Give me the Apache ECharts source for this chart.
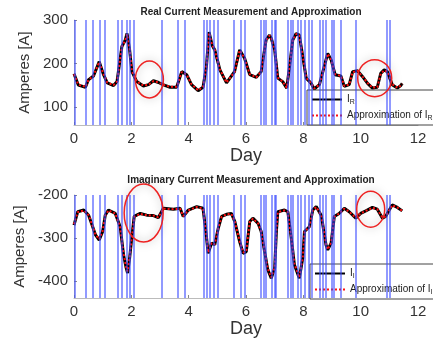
<!DOCTYPE html>
<html lang="en">
<head>
  <meta charset="UTF-8">
  <title>Real / Imaginary Current Measurement and Approximation</title>
  <script src="https://cdn.jsdelivr.net/npm/echarts@6/dist/echarts.min.js"></script>
  <style>
    * { margin: 0; padding: 0; }
    body { background: #fff; }
    #chart { width: 433px; height: 339px; }
  </style>
</head>
<body>
  <div id="chart"></div>
  <script>
    // real part, measured (day, A)
    const realDays = [0, 0.15, 0.4, 0.5, 0.68, 0.88, 1.03, 1.16, 1.38, 1.5, 1.67, 1.79, 1.85, 1.94, 2.02, 2.19, 2.42, 2.6, 2.77, 2.95,
      3.1, 3.35, 3.58, 3.76, 3.93, 4.1, 4.33, 4.5, 4.62, 4.71, 4.82, 4.91, 5.09, 5.32, 5.37, 5.6, 5.78, 5.84, 5.95, 6.13,
      6.36, 6.53, 6.7, 6.82, 6.88, 7.0, 7.11, 7.28, 7.42, 7.52, 7.63, 7.75, 7.86, 7.98, 8.1, 8.27, 8.38, 8.56, 8.73, 8.85,
      8.97, 9.11, 9.31, 9.43, 9.6, 9.72, 9.89, 10.06, 10.24, 10.41, 10.58, 10.7, 10.82, 10.93, 11.1, 11.28, 11.4, 11.45];
    const realAmps = [176, 150, 145, 162, 171, 204, 174, 155, 149, 158, 239, 254, 269, 231, 181, 158, 148, 151, 160, 156,
      151, 145, 145, 181, 174, 151, 137, 145, 193, 272, 242, 231, 185, 155, 151, 181, 231, 233, 212, 174,
      168, 181, 254, 265, 258, 231, 166, 158, 143, 193, 254, 269, 265, 216, 166, 154, 141, 151, 193, 223,
      208, 174, 171, 147, 151, 181, 183, 170, 154, 143, 145, 177, 185, 181, 151, 143, 149, 154];
    const realApprox = [175, 151, 146, 161, 172, 203, 175, 156, 150, 158, 238, 254, 267, 232, 182, 158, 149, 151, 159, 156,
      151, 146, 146, 180, 174, 152, 138, 146, 194, 270, 243, 231, 186, 156, 152, 180, 230, 232, 212, 175,
      168, 181, 253, 264, 258, 231, 167, 158, 144, 193, 253, 268, 264, 216, 167, 154, 142, 151, 192, 222,
      208, 175, 171, 148, 151, 180, 183, 170, 155, 144, 145, 176, 184, 181, 152, 144, 149, 153];

    // imaginary part, measured (day, A)
    const imagDays = [0, 0.13, 0.34, 0.51, 0.63, 0.75, 0.88, 1.0, 1.09, 1.2, 1.44, 1.61, 1.73, 1.82, 1.87, 1.94, 2.02, 2.1, 2.31, 2.54,
      2.77, 2.94, 3.12, 3.47, 3.7, 3.81, 3.99, 4.28, 4.5, 4.6, 4.68, 4.8, 4.91, 5.03, 5.15, 5.32, 5.49, 5.61, 5.78, 5.9,
      6.01, 6.13, 6.24, 6.42, 6.53, 6.65, 6.76, 6.88, 7.0, 7.06, 7.11, 7.34, 7.46, 7.58, 7.69, 7.86, 7.98, 8.04, 8.21, 8.33,
      8.45, 8.62, 8.67, 8.79, 8.85, 8.97, 9.08, 9.25, 9.43, 9.6, 9.83, 10.0, 10.18, 10.41, 10.58, 10.76, 10.87, 11.1, 11.28, 11.45];
    const imagAmps = [-270, -239, -235, -247, -270, -293, -305, -285, -247, -235, -243, -274, -340, -370, -382, -347, -297, -250, -243, -247,
      -248, -253, -231, -233, -231, -250, -235, -227, -231, -285, -336, -312, -316, -278, -250, -245, -243, -262, -309, -336,
      -332, -262, -254, -266, -285, -332, -374, -394, -370, -285, -239, -235, -239, -301, -363, -394, -347, -285, -274, -235,
      -227, -247, -266, -316, -328, -312, -250, -243, -231, -239, -254, -243, -237, -229, -233, -254, -250, -223, -229, -237];
    const imagApprox = [-268, -240, -236, -247, -269, -292, -303, -284, -248, -236, -243, -275, -338, -368, -378, -346, -297, -251, -244, -247,
      -248, -252, -232, -233, -232, -249, -236, -228, -232, -284, -334, -312, -315, -278, -251, -245, -244, -262, -308, -334,
      -331, -263, -255, -266, -285, -331, -372, -392, -369, -286, -240, -236, -240, -300, -361, -392, -347, -286, -274, -236,
      -228, -247, -265, -315, -327, -311, -251, -243, -232, -239, -253, -243, -237, -230, -233, -253, -250, -224, -229, -237];

    // blue vertical markers (day)
    const markerDays = [0.03, 0.42, 0.64, 0.9, 1.06, 1.51, 1.65, 1.83, 1.93, 2.07, 3.05, 3.63, 3.86,
      4.54, 4.62, 4.72, 4.88, 5.03, 5.56, 5.8, 5.95, 6.53, 6.61, 6.68, 6.89, 7.0, 7.05,
      7.46, 7.55, 7.62, 7.8, 7.92, 8.04, 8.19, 8.31, 8.56, 8.67, 8.79, 9.0, 9.06, 9.31, 9.84, 10.9, 11.03];

    // red highlight circles (day, A)
    const realCircles = [[2.63, 163], [10.49, 166]];
    const imagCircles = [[2.43, -242], [10.35, -233]];

    const dayTicks = [0, 2, 4, 6, 8, 10, 12];
    const realTicks = [100, 200, 300];
    const imagTicks = [-400, -300, -200];

    const chart = echarts.init(document.getElementById('chart'));
    const font = 'Liberation Sans, Arial, sans-serif';

    function pairs(xs, ys) {
      return xs.map((x, i) => [x, ys[i]]);
    }

    function xAx(gridIndex) {
      return {
        type: 'value', gridIndex: gridIndex, min: 0, max: 12, interval: 2,
        name: 'Day', nameLocation: 'middle', nameGap: 22,
        nameTextStyle: { fontSize: 18, color: '#333', fontFamily: font },
        axisLine: { lineStyle: { color: '#bbb' } },
        axisTick: { inside: true, length: 3, lineStyle: { color: '#888' } },
        axisLabel: { fontSize: 15, color: '#333', fontFamily: font, margin: 6,
          customValues: dayTicks },
        splitLine: { show: false }
      };
    }

    function yAx(gridIndex, min, max, ticks) {
      return {
        type: 'value', gridIndex: gridIndex, min: min, max: max,
        name: 'Amperes [A]', nameLocation: 'middle', nameGap: 40, nameRotate: 90,
        nameTextStyle: { fontSize: 15, color: '#333', fontFamily: font },
        axisLine: { show: true, lineStyle: { color: '#bbb' } },
        axisTick: { inside: true, length: 3, lineStyle: { color: '#888' }, customValues: ticks },
        axisLabel: { fontSize: 15, color: '#333', fontFamily: font, margin: 6, customValues: ticks },
        splitLine: { show: false }
      };
    }

    const rich = {
      a: { fontSize: 10, color: '#222', fontFamily: font, lineHeight: 14 },
      s: { fontSize: 7, color: '#222', fontFamily: font, lineHeight: 14, padding: [6, 0, 0, 0] }
    };

    function legendBox(left, top, names) {
      return {
        data: names, orient: 'vertical', left: left, top: top,
        backgroundColor: '#fff', borderColor: '#444', borderWidth: 1, borderRadius: 0,
        padding: [3, 5, 3, 4], itemGap: 3, itemWidth: 30, itemHeight: 12,
        selectedMode: false,
        itemStyle: { color: 'rgba(0,0,0,0)', borderWidth: 0, opacity: 0 },
        textStyle: { rich: rich },
        formatter: function (name) {
          if (name === 'IR') return '{a|I}{s|R}';
          if (name === 'aIR') return '{a|Approximation of I}{s|R}';
          if (name === 'II') return '{a|I}{s|I}';
          return '{a|Approximation of I}{s|I}';
        }
      };
    }

    function measured(name, xi, data) {
      return {
        name: name, type: 'line', xAxisIndex: xi, yAxisIndex: xi, data: data,
        symbol: 'none', z: 3, lineStyle: { color: '#000', width: 3 }, itemStyle: { color: '#000' }
      };
    }

    function approx(name, xi, data) {
      return {
        name: name, type: 'line', xAxisIndex: xi, yAxisIndex: xi, data: data,
        symbol: 'none', z: 4, lineStyle: { color: '#ff1010', width: 2, type: [2, 2] },
        itemStyle: { color: '#ff1010' }
      };
    }

    function markers(xi) {
      return {
        type: 'line', xAxisIndex: xi, yAxisIndex: xi, data: [], z: 1, silent: true,
        markLine: {
          silent: true, symbol: 'none', animation: false, label: { show: false },
          lineStyle: { color: 'rgba(60,75,255,0.75)', width: 1.5, type: 'solid' },
          data: markerDays.map(d => ({ xAxis: d }))
        }
      };
    }

    chart.setOption({
      animation: false,
      title: [
        { text: 'Real Current Measurement and Approximation', left: 246, top: 2, textAlign: 'center',
          textStyle: { fontSize: 10, fontWeight: 'bold', color: '#222', fontFamily: font } },
        { text: 'Imaginary Current Measurement and Approximation', left: 246, top: 170, textAlign: 'center',
          textStyle: { fontSize: 10, fontWeight: 'bold', color: '#222', fontFamily: font } }
      ],
      grid: [
        { left: 74, right: 15, top: 20, height: 105 },
        { left: 74, right: 15, top: 195, height: 103 }
      ],
      legend: [
        legendBox(307, 90, ['IR', 'aIR']),
        legendBox(310, 264, ['II', 'aII'])
      ],
      xAxis: [xAx(0), xAx(1)],
      yAxis: [yAx(0, 58, 300, realTicks), yAx(1, -440, -200, imagTicks)],
      series: [
        markers(0),
        markers(1),
        measured('IR', 0, pairs(realDays, realAmps)),
        approx('aIR', 0, pairs(realDays, realApprox)),
        measured('II', 1, pairs(imagDays, imagAmps)),
        approx('aII', 1, pairs(imagDays, imagApprox))
      ]
    });

    // highlight ellipses placed through the axes
    const radii = [[14, 18.5], [17, 18.5], [19.5, 29], [14, 18]];
    const centres = realCircles.map(c => chart.convertToPixel({ xAxisIndex: 0, yAxisIndex: 0 }, c))
      .concat(imagCircles.map(c => chart.convertToPixel({ xAxisIndex: 1, yAxisIndex: 1 }, c)));
    chart.setOption({
      graphic: centres.map((p, i) => ({
        type: 'ellipse', z: 100, silent: true,
        shape: { cx: p[0], cy: p[1], rx: radii[i][0], ry: radii[i][1] },
        style: { fill: 'none', stroke: '#ee2222', lineWidth: 1.5,
          shadowBlur: 8, shadowColor: 'rgba(0,0,0,0.35)' }
      }))
    });
  </script>
</body>
</html>
